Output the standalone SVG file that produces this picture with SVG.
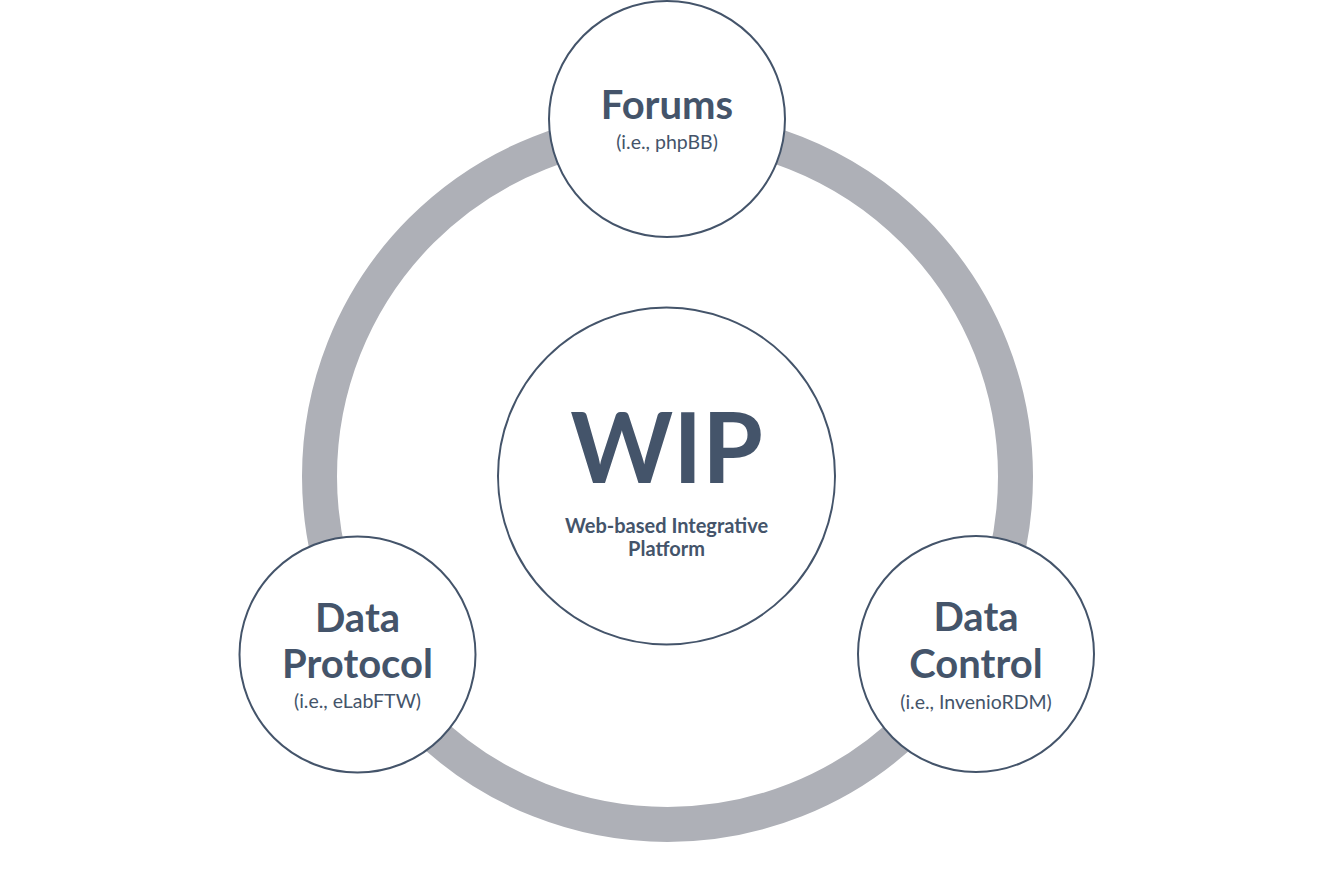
<svg xmlns="http://www.w3.org/2000/svg" width="1334" height="890" viewBox="0 0 1334 890">
<style>
.node{fill:#FFFFFF;stroke:#44546A;stroke-width:2}
.t{font-family:Lato,"Open Sans","Liberation Sans",sans-serif;fill:#44546A;text-anchor:middle}
.title{font-size:40px;font-weight:bold}
.sub{font-size:19.5px}
.big{font-size:98px;font-weight:bold}
.desc{font-size:20px;font-weight:bold}
</style>
<rect width="1334" height="890" fill="#FFFFFF"/>
<g id="connectors">
<circle cx="667.5" cy="476.5" r="348" fill="none" stroke="#AEB0B7" stroke-width="35"/>
</g>
<g id="wip">
<circle class="node" cx="666.5" cy="476" r="168.5"/>
<text class="t big" x="666.5" y="483">WIP</text>
<text class="t desc" x="666.5" y="533">Web-based Integrative</text>
<text class="t desc" x="666.5" y="556">Platform</text>
</g>
<g id="forums">
<circle class="node" cx="667" cy="119" r="118"/>
<text class="t title" x="667" y="119">Forums</text>
<text class="t sub" x="667" y="149">(i.e., phpBB)</text>
</g>
<g id="data-protocol">
<circle class="node" cx="357.5" cy="654.5" r="118"/>
<text class="t title" x="357.5" y="632">Data</text>
<text class="t title" x="357.5" y="678">Protocol</text>
<text class="t sub" x="357.5" y="708">(i.e., eLabFTW)</text>
</g>
<g id="data-control">
<circle class="node" cx="976" cy="654" r="118"/>
<text class="t title" x="976" y="631">Data</text>
<text class="t title" x="976" y="678">Control</text>
<text class="t sub" x="976" y="709">(i.e., InvenioRDM)</text>
</g>
</svg>
